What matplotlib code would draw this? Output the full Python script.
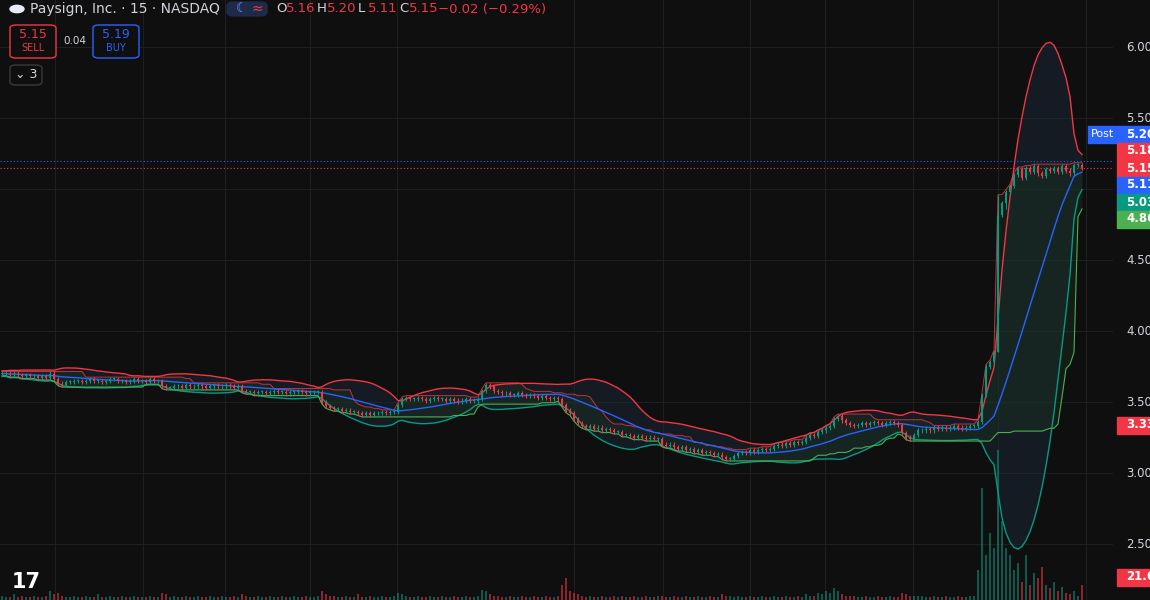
import numpy as np
import pandas as pd
import matplotlib
matplotlib.use("Agg")
import matplotlib.pyplot as plt
from matplotlib.patches import FancyBboxPatch, Rectangle, Circle

closes = [
 3.70,3.70,3.69,3.70,3.69,3.68,3.69,3.68,3.68,3.67,3.68,3.67,3.70,
 3.66,3.63,3.62,3.64,
 3.64,3.65,3.65,3.64,3.65,3.66,3.65,3.65,3.64,3.65,3.66,3.66,3.65,3.65,3.64,3.65,3.66,3.65,3.65,3.64,3.66,3.65,3.65,
 3.61,3.60,
 3.60,3.61,3.61,3.60,3.62,3.61,3.61,3.62,3.61,3.60,3.61,3.62,3.61,3.61,3.62,3.61,3.60,3.61,
 3.58,3.57,3.57,
 3.56,3.57,3.57,3.56,3.57,3.58,3.57,3.57,3.56,3.57,3.57,3.58,3.57,3.56,3.57,3.57,3.57,
 3.50,3.47,3.46,
 3.45,3.45,3.44,3.44,3.43,3.43,3.42,3.41,3.42,3.41,3.42,3.42,3.43,3.42,3.43,3.43,
 3.48,3.52,3.53,3.52,
 3.52,3.53,3.52,3.51,3.52,3.53,3.52,3.52,3.51,3.52,3.51,3.50,3.51,3.52,3.51,3.51,3.52,
 3.58,3.62,3.61,3.58,
 3.57,3.56,3.56,3.55,3.55,3.56,3.55,3.54,3.55,3.54,3.53,3.54,3.53,3.52,3.53,3.52,
 3.48,3.44,3.42,3.38,3.35,
 3.33,3.32,3.33,3.31,3.32,3.30,3.31,3.30,3.29,3.29,
 3.27,3.27,3.26,3.25,3.26,3.25,3.24,3.25,3.24,3.24,
 3.20,3.19,3.20,3.18,3.17,3.18,3.16,3.17,3.15,3.16,3.14,3.15,3.14,3.13,3.13,
 3.11,3.10,3.10,3.12,
 3.14,3.15,3.14,3.16,3.15,3.16,3.17,3.16,3.17,
 3.19,3.20,3.19,3.21,3.20,3.22,3.21,3.22,
 3.25,3.27,3.26,3.29,3.30,3.32,3.33,
 3.38,3.40,3.37,3.35,3.34,
 3.33,3.34,3.35,3.34,3.35,3.36,3.35,3.34,3.35,3.36,3.35,3.34,
 3.28,3.25,3.24,3.27,3.30,
 3.30,3.31,3.30,3.32,3.31,3.32,3.31,3.32,3.33,3.32,3.31,3.32,3.33,3.33,
 3.36,3.55,3.75,
 3.78,3.85,
 4.82,4.90,4.98,5.02,
 5.10,5.14,5.08,5.15,5.12,5.16,5.11,5.09,5.14,5.13,5.15,5.12,5.16,5.13,5.11,5.17,5.17,5.15,
]
volumes = [
 3,2,2,4,2,3,2,2,3,2,2,3,6, 4,5,3,2,
 2,3,2,2,3,2,2,4,2,2,3,2,2,3,2,2,3,2,2,2,3,2,2,
 5,4, 2,3,2,2,3,2,2,3,2,2,3,2,2,3,2,2,3,2,
 4,3,2, 2,3,2,2,3,2,2,3,2,2,3,2,2,3,2,2,3,
 6,4,3, 3,2,2,3,2,2,4,2,2,3,2,2,3,2,2,3,
 5,4,3,2, 2,3,2,2,3,2,2,3,2,2,3,2,2,3,2,2,3,
 7,6,4,3, 3,2,2,3,2,2,3,2,2,3,2,2,3,2,2,3,
 10,15,6,5,4, 3,2,3,2,2,3,2,2,3,2, 3,2,2,3,2,2,3,2,2,3,
 3,2,2,3,2,2,3,2,2,3,2,2,3,2,2, 4,3,3,2,
 3,2,2,3,2,2,3,2,2, 3,2,2,3,2,2,3,2,
 4,3,3,5,4,6,5, 8,6,4,3,3,
 3,2,2,3,2,2,3,2,2,3,2,2, 5,4,3,3,3,
 3,2,2,3,2,2,3,2,2,3,2,2,3,3,
 20,75,30, 45,35,
 100,53,35,30,
 20,25,12,30,10,18,15,22,10,8,12,6,9,5,4,6,3,10,
]
price_ticks = [2.50, 3.00, 3.50, 4.00, 4.50, 5.00, 5.50, 6.00]
grid_x_px = [55, 143, 225, 310, 397, 574, 663, 750, 825, 913, 998, 1086]
# label text, colour, vertical pixel position of the tag
tags = [("5.20", "#2962ff", 134), ("5.18", "#f23645", 151), ("5.15", "#f23645", 168),
        ("5.11", "#2962ff", 185), ("5.03", "#089981", 202), ("4.86", "#4caf50", 219),
        ("3.33", "#f23645", 425), ("21.6", "#f23645", 577)]

c = pd.Series(closes, dtype=float)
n = len(c)
o = c.shift(1).fillna(c.iloc[0])
hi = np.maximum(o, c) + 0.015
lo = np.minimum(o, c) - 0.015
hi[249] = 4.96; lo[249] = 3.85
lo[251] = 4.86
up = c >= o
x = np.arange(n)

BG = "#0f0f0f"; UP = "#089981"; DN = "#f23645"; TXT = "#d1d4dc"
fig = plt.figure(figsize=(11.5, 6), dpi=100, facecolor=BG)
ax = fig.add_axes([0, 0, 1, 1])
ax.set_facecolor(BG)
ax.set_xlim(-0.5, 287)
ymin, ymax = 6.331 - 600 / 142, 6.331
ax.set_ylim(ymin, ymax)
ax.axis("off")
pxu = lambda px: (px - 2) / 4.0
frac = 1112 / 1150

for p in price_ticks:
    ax.axhline(p, xmin=0, xmax=frac, color="#1f1f1f", lw=0.8, zorder=0)
for gx in grid_x_px:
    ax.axvline(pxu(gx), color="#1f1f1f", lw=0.8, zorder=0)

# volume
axv = fig.add_axes([0, 0, 1, 1], sharex=ax)
axv.set_ylim(0, 400)
axv.axis("off")
axv.patch.set_alpha(0)
vc = [UP if u else DN for u in up]
axv.bar(x, volumes, width=0.45, color=vc, alpha=0.55, zorder=1)

# indicators
tp = (pd.Series(hi) + pd.Series(lo) + c) / 3
mid = c.rolling(20, min_periods=1).mean()
sd = tp.rolling(20, min_periods=2).std(ddof=0).fillna(0)
ub, lb = mid + 2 * sd + 0.02, mid - 2 * sd - 0.02
ax.fill_between(x, ub, lb, color="#1c2a3a", alpha=0.45, lw=0, zorder=1)
ax.plot(x, ub, color=DN, lw=1, zorder=2)
ax.plot(x, lb, color=UP, lw=1, zorder=2)
ax.plot(x, mid, color="#2962ff", lw=1, zorder=3)
dh = pd.Series(hi).rolling(8, min_periods=1).max()
dl = pd.Series(lo).rolling(20, min_periods=1).min()
ax.fill_between(x, dh, dl, color="#1d3a22", alpha=0.35, lw=0, zorder=1)
ax.plot(x, dh, color=DN, lw=0.7, alpha=0.8, zorder=2)
ax.plot(x, dl, color="#4caf50", lw=0.8, zorder=2)

# candles
cols = np.where(up, UP, DN)
ax.vlines(x, lo, hi, colors=cols, lw=0.8, zorder=4)
ax.bar(x, np.maximum(np.abs(c - o), 0.006), bottom=np.minimum(o, c), width=0.7,
       color=cols, zorder=5)

ax.axhline(5.20, xmax=frac, color="#2962ff", lw=0.8, ls=(0, (1, 2)), zorder=3)
ax.axhline(5.15, xmax=frac, color=DN, lw=0.8, ls=(0, (1, 2)), zorder=3)

# price scale
def ypx(p):
    return 1 - (6.331 - p) * 142 / 600
for p in price_ticks:
    fig.text(1126 / 1150, ypx(p), f"{p:.2f}", color=TXT, fontsize=8.5, va="center", ha="left")
for t, col, yp in tags:
    yy = 1 - yp / 600
    fig.patches.append(Rectangle((1117 / 1150, yy - 8.5 / 600), 40 / 1150, 17 / 600,
                                 transform=fig.transFigure, color=col, zorder=5))
    fig.text(1126 / 1150, yy, t, color="white", fontsize=8.5, fontweight="bold", va="center", ha="left", zorder=6)
fig.patches.append(Rectangle((1088 / 1150, 1 - 142.5 / 600), 28 / 1150, 17 / 600,
                             transform=fig.transFigure, color="#2962ff", zorder=5))
fig.text(1102 / 1150, 1 - 134 / 600, "Post", color="white", fontsize=8, va="center", ha="center", zorder=6)

# header
fig.patches.append(Circle((17 / 1150, 1 - 9 / 600), 7 / 1150, transform=fig.transFigure,
                          color="#e8ecf5", zorder=5))
fig.text(30 / 1150, 1 - 9 / 600, "Paysign, Inc. · 15 · NASDAQ", color=TXT, fontsize=10, va="center")
fig.patches.append(FancyBboxPatch((227 / 1150, 1 - 16 / 600), 40 / 1150, 14 / 600,
                                  boxstyle="round,pad=0,rounding_size=0.006", transform=fig.transFigure,
                                  color="#1e2a4a", zorder=5))
fig.text(236 / 1150, 1 - 9 / 600, "☾", color="#6e9bff", fontsize=9, va="center", zorder=6)
fig.text(252 / 1150, 1 - 9 / 600, "≈", color=DN, fontsize=10, va="center", zorder=6)
hx = 276
for lab, val in [("O", "5.16"), ("H", "5.20"), ("L", "5.11"), ("C", "5.15")]:
    fig.text(hx / 1150, 1 - 9 / 600, lab, color=TXT, fontsize=9.5, va="center")
    fig.text((hx + 10) / 1150, 1 - 9 / 600, val, color=DN, fontsize=9.5, va="center")
    hx += 41
fig.text((hx - 2) / 1150, 1 - 9 / 600, "−0.02 (−0.29%)", color=DN, fontsize=9.5, va="center")

def box(x0, y0, w, h, ec):
    fig.patches.append(FancyBboxPatch((x0 / 1150, 1 - (y0 + h) / 600), w / 1150, h / 600,
                                      boxstyle="round,pad=0,rounding_size=0.005", transform=fig.transFigure,
                                      fc=BG, ec=ec, lw=1, zorder=5))
box(10, 25, 46, 33, DN)
fig.text(33 / 1150, 1 - 34 / 600, "5.15", color=DN, fontsize=9, ha="center", va="center", zorder=6)
fig.text(33 / 1150, 1 - 48 / 600, "SELL", color=DN, fontsize=7, ha="center", va="center", zorder=6)
fig.text(75 / 1150, 1 - 41 / 600, "0.04", color=TXT, fontsize=7.5, ha="center", va="center")
box(93, 25, 46, 33, "#2962ff")
fig.text(116 / 1150, 1 - 34 / 600, "5.19", color="#2962ff", fontsize=9, ha="center", va="center", zorder=6)
fig.text(116 / 1150, 1 - 48 / 600, "BUY", color="#2962ff", fontsize=7, ha="center", va="center", zorder=6)
box(10, 65, 32, 20, "#3a3a3a")
fig.text(26 / 1150, 1 - 75 / 600, "⌄ 3", color=TXT, fontsize=9, ha="center", va="center", zorder=6)
fig.text(12 / 1150, 1 - 582 / 600, "17", color="white", fontsize=15, fontweight="bold", va="center")

fig.savefig("out.png", dpi=100, facecolor=BG)
